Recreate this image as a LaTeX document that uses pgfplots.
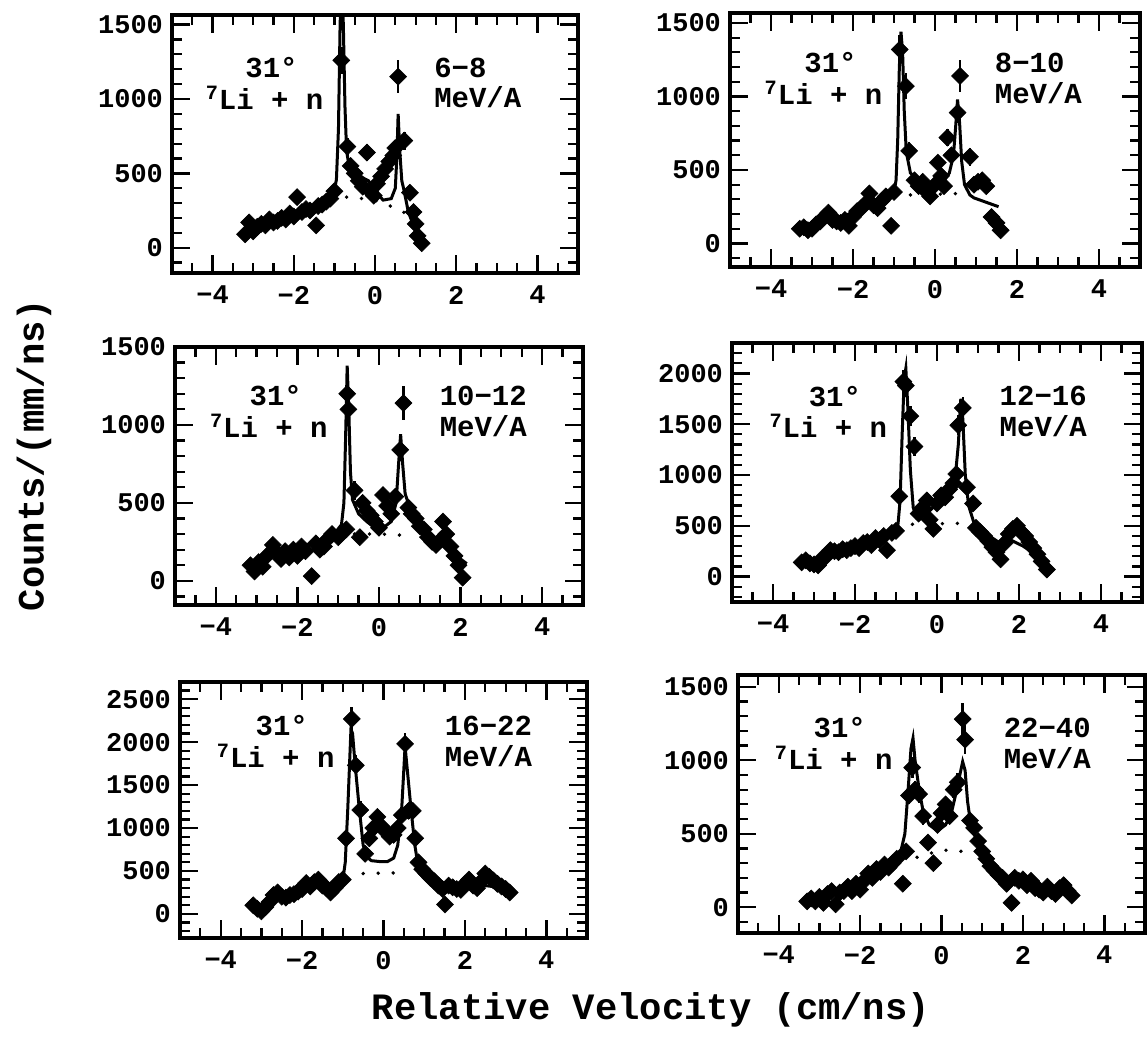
\documentclass[border=0pt]{standalone}
\usepackage{fontspec}
\setmainfont{Liberation Mono}
\usepackage{pgfplots}
\pgfplotsset{compat=1.18}
\newcommand{\tickfont}{\fontsize{13.5}{15}\selectfont\bfseries}
\newcommand{\annofont}{\fontsize{14.5}{16}\selectfont\bfseries}
\newcommand{\labfont}{\fontsize{18.6}{22}\selectfont\bfseries}
\tikzset{anno/.style={font=\annofont, inner sep=0pt}}
\pgfplotsset{
 panel/.style={scale only axis, anchor=south west, xmin=-5, xmax=5,
  xtick={-4,-2,0,2,4}, xticklabels={−4,−2,0,2,4},
  minor xtick={-5,-4.5,...,5},
  ytick distance=500, minor ytick={-300,-200,...,2700},
  major tick length=9pt, minor tick length=5pt,
  major tick style={line width=1.2pt, black},
  minor tick style={line width=1.1pt, black},
  axis line style={line width=1.6pt},
  tick label style={font=\tickfont},
  xticklabel style={yshift=-3pt},
  yticklabel style={xshift=-1pt},
  /pgf/number format/assume math mode=true, /pgf/number format/1000 sep={},
  scaled y ticks=false, clip mode=individual},
 dat/.style={only marks, mark=square*, mark size=3pt,
  mark options={rotate=45, fill=black, draw=black, line width=0.3pt},
  error bars/.cd, y dir=both, y explicit, error mark=none,
  error bar style={line width=1.3pt, black}},
 fit/.style={no marks, black, line width=1.5pt},
 bg/.style={no marks, black, line width=1.9pt, line cap=round, dash pattern=on 0pt off 7.5pt},
}
\begin{document}
\begin{tikzpicture}
\path[use as bounding box] (0,0) rectangle (573.5pt,521pt);
% ---------------- Panel 1: 6-8
\begin{axis}[panel, at={(86pt,384.5pt)}, width=203pt, height=129pt, ymin=-170, ymax=1565]
\addplot[dat] table[row sep=\\, y error index=2] {x y e\\
-3.2 90 30\\ -3.1 170 30\\ -3.0 110 30\\ -2.9 140 30\\ -2.8 160 30\\ -2.7 150 30\\ -2.6 190 30\\
-2.5 170 30\\ -2.4 180 30\\ -2.3 200 30\\ -2.2 190 30\\ -2.1 230 30\\ -2.0 210 30\\ -1.92 340 40\\
-1.8 240 30\\ -1.7 260 30\\ -1.6 250 30\\ -1.45 150 30\\ -1.4 280 30\\ -1.3 290 30\\ -1.2 310 30\\
-1.1 330 30\\ -1.0 380 40\\ -0.83 1260 90\\ -0.68 680 60\\ -0.6 550 50\\ -0.5 500 50\\ -0.4 450 50\\
-0.3 410 50\\ -0.2 640 60\\ -0.12 380 50\\ -0.03 350 50\\ 0.05 430 50\\ 0.15 480 50\\ 0.25 530 50\\
0.35 580 50\\ 0.45 620 50\\ 0.5 670 50\\ 0.57 1150 110\\ 0.72 720 60\\ 0.86 370 50\\ 0.95 240 40\\
1.0 160 40\\ 1.05 80 30\\ 1.15 30 30\\};
\addplot[fit] table[row sep=\\] {x y\\
-3.2 110\\ -2.8 150\\ -2.4 180\\ -2.0 220\\ -1.6 260\\ -1.3 300\\ -1.1 340\\ -1.0 380\\ -0.95 460\\
-0.9 800\\ -0.86 1500\\ -0.82 1800\\ -0.78 1500\\ -0.74 950\\ -0.7 650\\ -0.62 520\\ -0.5 480\\
-0.3 470\\ -0.16 450\\ 0.0 380\\ 0.2 320\\ 0.4 330\\ 0.5 400\\ 0.54 620\\ 0.57 900\\ 0.61 650\\
0.66 450\\ 0.72 380\\ 0.82 240\\ 0.95 150\\ 1.1 60\\ 1.2 10\\};
\addplot[bg] table[row sep=\\] {x y\\ -0.7 340\\ -0.3 330\\ 0.0 320\\ 0.3 290\\ 0.66 244\\ 0.85 220\\};
\node[anno] at (rel axis cs:0.245,0.795) {31°};
\node[anno] at (rel axis cs:0.228,0.68) {\textsuperscript{7}Li + n};
\node[anno, anchor=west] at (rel axis cs:0.645,0.795) {6−8};
\node[anno, anchor=west] at (rel axis cs:0.645,0.68) {MeV/A};
\end{axis}
% ---------------- Panel 2: 8-10
\begin{axis}[panel, at={(365pt,387.5pt)}, width=205pt, height=127pt, ymin=-160, ymax=1568]
\addplot[dat] table[row sep=\\, y error index=2] {x y e\\
-3.3 100 30\\ -3.2 110 30\\ -3.1 90 30\\ -3.0 100 30\\ -2.9 130 30\\ -2.8 150 30\\ -2.7 180 30\\
-2.6 210 30\\ -2.5 160 30\\ -2.4 150 30\\ -2.3 140 30\\ -2.2 160 30\\ -2.1 120 30\\ -2.0 180 30\\
-1.9 220 30\\ -1.8 240 30\\ -1.7 270 30\\ -1.6 340 40\\ -1.5 260 30\\ -1.4 240 30\\ -1.3 290 30\\
-1.2 320 30\\ -1.07 120 30\\ -1.0 350 40\\ -0.86 1320 100\\ -0.71 1070 90\\ -0.63 630 60\\
-0.5 430 50\\ -0.4 390 50\\ -0.3 420 50\\ -0.2 350 50\\ -0.12 320 50\\ 0.0 400 50\\ 0.07 550 50\\
0.15 460 50\\ 0.22 390 50\\ 0.3 720 60\\ 0.4 600 50\\ 0.55 890 70\\ 0.61 1140 110\\ 0.85 590 60\\
0.95 400 40\\ 1.05 420 40\\ 1.15 430 40\\ 1.25 390 40\\ 1.38 180 40\\ 1.5 140 40\\ 1.6 90 30\\};
\addplot[fit] table[row sep=\\] {x y\\
-3.3 100\\ -2.8 150\\ -2.3 180\\ -1.8 230\\ -1.4 270\\ -1.2 300\\ -1.0 350\\ -0.95 430\\ -0.91 700\\
-0.87 1200\\ -0.83 1440\\ -0.79 1300\\ -0.75 900\\ -0.7 620\\ -0.6 480\\ -0.4 420\\ -0.2 400\\
0.0 400\\ 0.2 420\\ 0.35 480\\ 0.45 600\\ 0.5 780\\ 0.55 980\\ 0.6 820\\ 0.65 560\\ 0.72 400\\
0.85 330\\ 0.95 310\\ 1.55 250\\};
\addplot[bg] table[row sep=\\] {x y\\ -0.6 330\\ 0.0 335\\ 0.6 340\\};
\node[anno] at (rel axis cs:0.245,0.805) {31°};
\node[anno] at (rel axis cs:0.228,0.685) {\textsuperscript{7}Li + n};
\node[anno, anchor=west] at (rel axis cs:0.645,0.805) {8−10};
\node[anno, anchor=west] at (rel axis cs:0.645,0.685) {MeV/A};
\end{axis}
% ---------------- Panel 3: 10-12
\begin{axis}[panel, at={(87.5pt,218.5pt)}, width=204pt, height=129pt, ymin=-155, ymax=1500]
\addplot[dat] table[row sep=\\, y error index=2] {x y e\\
-3.15 100 30\\ -3.05 60 30\\ -2.95 120 30\\ -2.85 90 30\\ -2.75 160 30\\ -2.6 230 30\\ -2.5 180 30\\
-2.4 140 30\\ -2.3 190 30\\ -2.2 150 30\\ -2.1 200 30\\ -2.0 160 30\\ -1.9 220 30\\ -1.8 190 30\\
-1.65 30 30\\ -1.55 240 30\\ -1.45 200 30\\ -1.35 220 30\\ -1.25 270 30\\ -1.15 300 30\\ -1.0 280 30\\
-0.9 310 30\\ -0.8 330 40\\ -0.78 1200 90\\ -0.75 1100 90\\ -0.6 580 60\\ -0.47 280 40\\
-0.4 500 50\\ -0.3 450 50\\ -0.2 420 50\\ -0.1 380 50\\ 0.0 340 50\\ 0.1 550 50\\ 0.2 480 50\\
0.3 430 50\\ 0.4 540 50\\ 0.52 840 70\\ 0.6 1140 110\\ 0.72 470 50\\ 0.8 430 40\\ 0.9 400 40\\
1.0 350 40\\ 1.1 330 40\\ 1.2 280 40\\ 1.3 250 40\\ 1.4 230 40\\ 1.5 260 40\\ 1.57 380 40\\
1.65 300 40\\ 1.75 220 40\\ 1.85 160 40\\ 1.95 100 40\\ 2.05 20 40\\};
\addplot[fit] table[row sep=\\] {x y\\
-3.2 110\\ -2.5 170\\ -2.0 210\\ -1.5 250\\ -1.1 300\\ -0.92 360\\ -0.86 500\\ -0.82 900\\
-0.78 1380\\ -0.74 1100\\ -0.7 700\\ -0.65 520\\ -0.5 430\\ -0.3 380\\ -0.1 340\\ 0.1 340\\
0.3 380\\ 0.42 500\\ 0.48 750\\ 0.53 940\\ 0.58 750\\ 0.64 560\\ 0.75 470\\ 1.0 360\\ 1.3 290\\
1.6 230\\ 1.9 160\\ 2.15 110\\};
\addplot[bg] table[row sep=\\] {x y\\ -0.6 300\\ 0.0 300\\ 0.4 295\\ 0.7 290\\};
\node[anno] at (rel axis cs:0.247,0.81) {31°};
\node[anno] at (rel axis cs:0.23,0.694) {\textsuperscript{7}Li + n};
\node[anno, anchor=west] at (rel axis cs:0.648,0.81) {10−12};
\node[anno, anchor=west] at (rel axis cs:0.648,0.694) {MeV/A};
\end{axis}
% ---------------- Panel 4: 12-16
\begin{axis}[panel, at={(366pt,220pt)}, width=205pt, height=129.5pt, ymin=-250, ymax=2300]
\addplot[dat] table[row sep=\\, y error index=2] {x y e\\
-3.3 140 30\\ -3.2 160 30\\ -3.1 130 30\\ -3.0 120 30\\ -2.9 110 30\\ -2.8 180 30\\ -2.7 200 30\\
-2.6 260 30\\ -2.5 250 30\\ -2.4 240 30\\ -2.3 270 30\\ -2.2 260 30\\ -2.1 280 30\\ -2.0 300 30\\
-1.9 280 30\\ -1.8 330 30\\ -1.7 340 30\\ -1.6 310 30\\ -1.5 380 30\\ -1.4 360 30\\ -1.3 400 30\\
-1.22 260 30\\ -1.1 430 40\\ -1.0 450 40\\ -0.92 790 60\\ -0.82 1920 110\\ -0.76 1880 110\\
-0.65 1580 100\\ -0.55 1280 90\\ -0.45 620 50\\ -0.35 680 50\\ -0.25 750 50\\ -0.18 560 50\\
-0.09 470 50\\ 0.0 720 50\\ 0.1 800 50\\ 0.2 780 50\\ 0.3 860 60\\ 0.4 920 60\\ 0.47 1010 70\\
0.52 1490 100\\ 0.63 1660 110\\ 0.73 880 60\\ 0.88 720 60\\ 0.95 480 40\\ 1.05 440 40\\ 1.15 400 40\\
1.25 350 40\\ 1.35 290 40\\ 1.45 240 40\\ 1.55 170 40\\ 1.65 330 40\\ 1.75 420 40\\ 1.85 470 40\\
1.95 500 40\\ 2.05 440 40\\ 2.15 400 40\\ 2.25 340 40\\ 2.35 280 40\\ 2.45 220 40\\ 2.55 150 40\\
2.68 70 40\\};
\addplot[fit] table[row sep=\\] {x y\\
-3.3 130\\ -2.5 230\\ -2.0 290\\ -1.5 360\\ -1.1 440\\ -0.95 520\\ -0.9 750\\ -0.85 1400\\
-0.8 1950\\ -0.76 2050\\ -0.71 1650\\ -0.65 1050\\ -0.58 680\\ -0.5 580\\ -0.3 600\\ -0.1 680\\
0.1 760\\ 0.3 850\\ 0.45 1000\\ 0.52 1300\\ 0.58 1750\\ 0.63 1550\\ 0.69 1000\\ 0.77 700\\
0.9 530\\ 1.2 420\\ 1.5 340\\ 1.8 360\\ 2.1 300\\ 2.4 220\\ 2.7 120\\};
\addplot[bg] table[row sep=\\] {x y\\ -0.6 515\\ 0.0 520\\ 0.6 525\\};
\node[anno] at (rel axis cs:0.251,0.795) {31°};
\node[anno] at (rel axis cs:0.235,0.68) {\textsuperscript{7}Li + n};
\node[anno, anchor=west] at (rel axis cs:0.652,0.795) {12−16};
\node[anno, anchor=west] at (rel axis cs:0.652,0.68) {MeV/A};
\end{axis}
% ---------------- Panel 5: 16-22
\begin{axis}[panel, at={(90pt,52pt)}, width=203.5pt, height=128pt, ymin=-280, ymax=2700]
\addplot[dat] table[row sep=\\, y error index=2] {x y e\\
-3.2 100 40\\ -3.1 60 40\\ -3.0 30 40\\ -2.9 80 40\\ -2.8 140 40\\ -2.7 220 40\\ -2.6 250 40\\
-2.5 200 40\\ -2.4 190 40\\ -2.3 220 40\\ -2.2 230 40\\ -2.1 260 40\\ -2.0 290 40\\ -1.9 360 40\\
-1.8 320 40\\ -1.7 370 40\\ -1.6 400 40\\ -1.5 330 40\\ -1.4 300 40\\ -1.3 250 40\\ -1.2 300 40\\
-1.1 370 40\\ -1.0 400 40\\ -0.92 880 80\\ -0.78 2270 140\\ -0.68 1730 120\\ -0.57 1210 100\\
-0.45 700 70\\ -0.35 880 70\\ -0.25 1000 70\\ -0.15 1130 80\\ -0.05 1020 70\\ 0.05 960 70\\
0.15 900 70\\ 0.25 920 70\\ 0.35 1000 70\\ 0.45 1150 80\\ 0.53 1980 130\\ 0.62 1200 90\\
0.72 1200 90\\ 0.78 880 70\\ 0.86 600 60\\ 0.95 520 50\\ 1.05 470 50\\ 1.15 420 50\\ 1.25 380 50\\
1.35 330 50\\ 1.45 290 50\\ 1.51 110 40\\ 1.6 330 50\\ 1.7 310 50\\ 1.8 290 50\\ 1.9 280 50\\
2.0 350 50\\ 2.1 400 50\\ 2.2 330 50\\ 2.3 300 50\\ 2.4 380 50\\ 2.5 470 50\\ 2.6 430 50\\
2.7 390 50\\ 2.8 350 50\\ 2.9 320 50\\ 3.0 290 50\\ 3.1 250 50\\};
\addplot[fit] table[row sep=\\] {x y\\
-3.2 80\\ -2.5 200\\ -2.0 280\\ -1.5 330\\ -1.0 390\\ -0.94 600\\ -0.88 1200\\ -0.8 2150\\
-0.76 2100\\ -0.7 1750\\ -0.6 1250\\ -0.5 800\\ -0.4 660\\ -0.3 620\\ -0.1 610\\ 0.1 610\\
0.25 650\\ 0.35 800\\ 0.45 1250\\ 0.53 1950\\ 0.6 1600\\ 0.68 1200\\ 0.77 800\\ 0.85 560\\
1.0 460\\ 1.3 390\\ 1.6 340\\ 2.0 320\\ 2.5 330\\ 3.0 300\\};
\addplot[bg] table[row sep=\\] {x y\\ -0.5 470\\ 0.0 475\\ 0.6 480\\};
\node[anno] at (rel axis cs:0.25,0.828) {31°};
\node[anno] at (rel axis cs:0.235,0.712) {\textsuperscript{7}Li + n};
\node[anno, anchor=west] at (rel axis cs:0.65,0.828) {16−22};
\node[anno, anchor=west] at (rel axis cs:0.65,0.712) {MeV/A};
\end{axis}
% ---------------- Panel 6: 22-40
\begin{axis}[panel, at={(369pt,54.5pt)}, width=203.5pt, height=129pt, ymin=-175, ymax=1580]
\addplot[dat] table[row sep=\\, y error index=2] {x y e\\
-3.3 40 30\\ -3.2 60 30\\ -3.1 40 30\\ -3.0 70 30\\ -2.9 30 30\\ -2.8 90 30\\ -2.7 110 30\\
-2.6 20 30\\ -2.5 100 30\\ -2.4 110 30\\ -2.3 140 30\\ -2.2 110 30\\ -2.1 160 30\\ -2.0 120 30\\
-1.9 180 30\\ -1.8 230 30\\ -1.7 200 30\\ -1.6 260 30\\ -1.5 240 30\\ -1.4 290 30\\ -1.3 270 30\\
-1.2 300 30\\ -1.1 330 40\\ -0.95 160 40\\ -0.87 380 40\\ -0.8 760 60\\ -0.72 950 70\\
-0.65 800 60\\ -0.55 770 60\\ -0.45 620 60\\ -0.33 440 50\\ -0.2 300 40\\ -0.1 560 50\\
0.0 640 50\\ 0.1 700 50\\ 0.2 620 50\\ 0.3 800 60\\ 0.4 850 60\\ 0.52 1280 110\\ 0.58 1140 100\\
0.7 590 50\\ 0.8 540 50\\ 0.9 450 50\\ 1.0 380 40\\ 1.1 330 40\\ 1.2 280 40\\ 1.3 250 40\\
1.4 220 40\\ 1.5 200 40\\ 1.6 160 40\\ 1.72 30 30\\ 1.8 200 40\\ 1.9 180 40\\ 2.0 190 40\\
2.1 150 40\\ 2.2 180 40\\ 2.3 130 40\\ 2.4 120 40\\ 2.5 100 40\\ 2.6 140 40\\ 2.7 110 40\\
2.8 90 40\\ 2.9 130 40\\ 3.0 150 40\\ 3.1 110 40\\ 3.2 80 40\\};
\addplot[fit] table[row sep=\\] {x y\\
-3.3 40\\ -2.5 100\\ -2.0 160\\ -1.5 240\\ -1.2 310\\ -1.0 380\\ -0.9 500\\ -0.82 800\\
-0.75 1080\\ -0.7 1150\\ -0.65 1000\\ -0.55 800\\ -0.45 650\\ -0.3 560\\ -0.1 520\\ 0.1 560\\
0.25 650\\ 0.35 770\\ 0.45 900\\ 0.52 990\\ 0.58 930\\ 0.64 720\\ 0.72 560\\ 0.9 430\\ 1.2 300\\
1.6 200\\ 2.0 170\\ 2.5 130\\ 3.0 120\\};
\addplot[bg] table[row sep=\\] {x y\\ -0.6 340\\ 0.0 390\\ 0.5 380\\ 0.7 350\\};
\node[anno] at (rel axis cs:0.25,0.795) {31°};
\node[anno] at (rel axis cs:0.235,0.678) {\textsuperscript{7}Li + n};
\node[anno, anchor=west] at (rel axis cs:0.652,0.795) {22−40};
\node[anno, anchor=west] at (rel axis cs:0.652,0.678) {MeV/A};
\end{axis}
\node[rotate=90, font=\labfont] at (17pt,293.5pt) {Counts/(mm/ns)};
\node[font=\labfont] at (325.5pt,16pt) {Relative Velocity (cm/ns)};
\end{tikzpicture}
\end{document}
